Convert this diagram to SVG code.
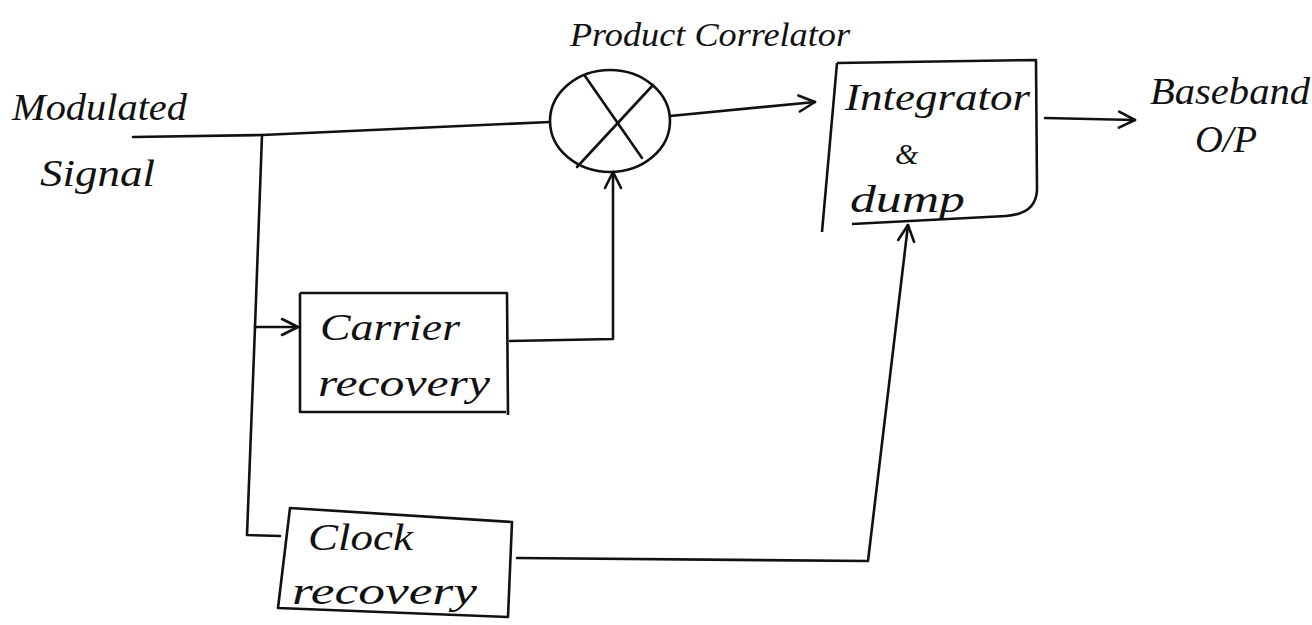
<svg xmlns="http://www.w3.org/2000/svg" width="1312" height="625" viewBox="0 0 1312 625">
<style>
.ln{fill:none;stroke:#111;stroke-width:2.6;stroke-linecap:round;stroke-linejoin:round}
.bx{fill:none;stroke:#111;stroke-width:2.6;stroke-linejoin:round}
.t{font-family:"Liberation Serif",serif;font-style:italic;fill:#111;font-size:38px}
.ah{fill:none;stroke:#111;stroke-width:2.6;stroke-linecap:round;stroke-linejoin:round}
</style>
<defs>
<marker id="arr" viewBox="0 0 20 20" refX="18" refY="10" markerWidth="20" markerHeight="20" markerUnits="userSpaceOnUse" orient="auto">
<path d="M2,2 L18,10 L2,18" class="ah"/>
</marker>
</defs>
<rect width="1312" height="625" fill="#fff"/>

<g id="labels-input">
<text class="t" x="12" y="120" textLength="175" lengthAdjust="spacingAndGlyphs">Modulated</text>
<text class="t" x="40" y="186" textLength="115" lengthAdjust="spacingAndGlyphs">Signal</text>
</g>

<g id="product-correlator">
<ellipse cx="610" cy="121" rx="60" ry="51" class="bx"/>
<line x1="585" y1="76" x2="642" y2="158" class="ln"/>
<line x1="577" y1="167" x2="653" y2="85" class="ln"/>
<text class="t" x="570" y="46" style="font-size:34px" textLength="280" lengthAdjust="spacingAndGlyphs">Product Correlator</text>
</g>

<g id="integrate-dump">
<path d="M837,63 L1036,60 L1037,190 Q1036,214 1006,216 L852,224" class="bx"/>
<path d="M837,63 L822,232" class="bx"/>
<text class="t" x="845" y="110" textLength="185" lengthAdjust="spacingAndGlyphs">Integrator</text>
<text class="t" x="895" y="164" style="font-size:30px">&amp;</text>
<text class="t" x="850" y="212" textLength="115" lengthAdjust="spacingAndGlyphs">dump</text>
</g>

<g id="carrier-recovery">
<path d="M300,293 L507,293 L508,415" class="bx"/>
<path d="M300,293 L300,412 L506,412" class="bx"/>
<text class="t" x="320" y="340" textLength="140" lengthAdjust="spacingAndGlyphs">Carrier</text>
<text class="t" x="318" y="396" textLength="172" lengthAdjust="spacingAndGlyphs">recovery</text>
</g>

<g id="clock-recovery">
<path d="M290,508 L512,522 L508,617 L278,608 Z" class="bx"/>
<text class="t" x="308" y="550" textLength="105" lengthAdjust="spacingAndGlyphs">Clock</text>
<text class="t" x="292" y="604" textLength="185" lengthAdjust="spacingAndGlyphs">recovery</text>
</g>

<g id="output">
<text class="t" x="1150" y="104" textLength="160" lengthAdjust="spacingAndGlyphs">Baseband</text>
<text class="t" x="1195" y="152" textLength="62" lengthAdjust="spacingAndGlyphs">O/P</text>
</g>

<g id="connectors">
<polyline points="133,137 262,135 550,122" class="ln"/>
<path d="M262,135 L255,327 L247,535 L280,536" class="ln"/>
<path d="M255,327 L298,327" class="ln" marker-end="url(#arr)"/>
<path d="M510,341 L613,339 L613,172" class="ln" marker-end="url(#arr)"/>
<path d="M670,116 L815,102" class="ln" marker-end="url(#arr)"/>
<path d="M517,558 L868,561 L908,225" class="ln" marker-end="url(#arr)"/>
<path d="M1045,118 L1135,120" class="ln" marker-end="url(#arr)"/>
</g>
</svg>
